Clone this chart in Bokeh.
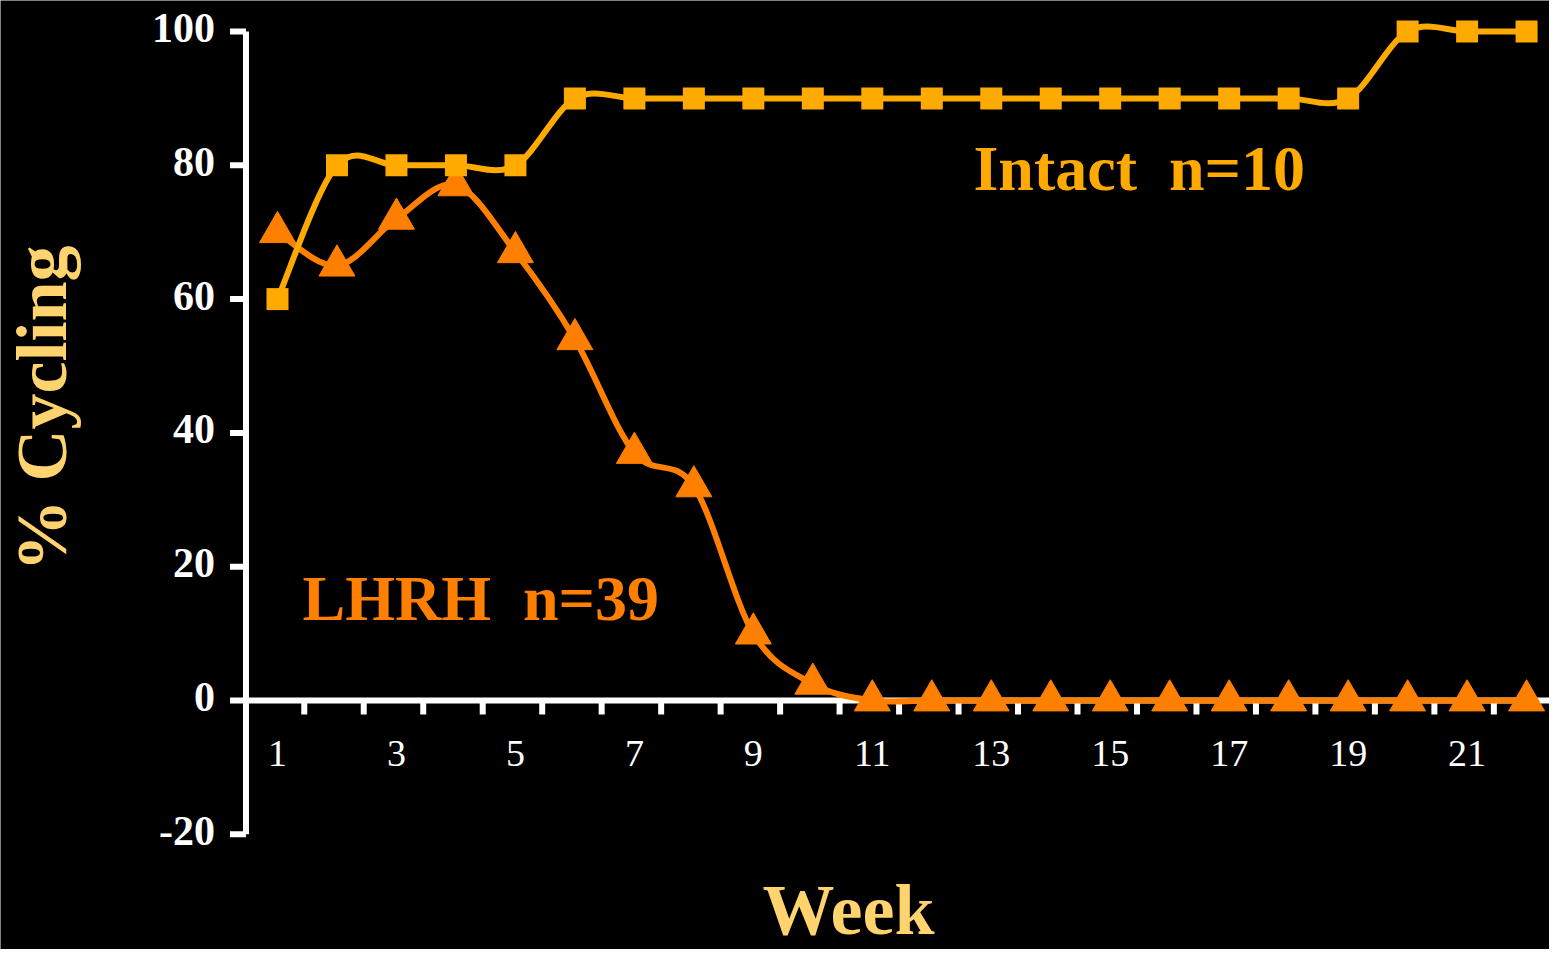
import math
from bokeh.plotting import figure
from bokeh.models import Range1d
from bokeh.core.properties import value
from bokeh.embed import file_html
from bokeh.resources import INLINE

# ---- data ----
weeks = list(range(1, 23))
intact = [60, 80, 80, 80, 80, 90, 90, 90, 90, 90, 90, 90, 90, 90, 90, 90, 90, 90, 90, 100, 100, 100]
lhrh = [70, 65, 72, 77, 67, 54, 37, 32, 10, 2.5, 0, 0, 0, 0, 0, 0, 0, 0, 0, 0, 0, 0]
x_tick_weeks = [1, 3, 5, 7, 9, 11, 13, 15, 17, 19, 21]
x_tick_labels = ["1", "3", "5", "7", "9", "11", "13", "15", "17", "19", "21"]
y_ticks = [-20, 0, 20, 40, 60, 80, 100]
y_tick_labels = ["-20", "0", "20", "40", "60", "80", "100"]

INTACT_COLOR = "#FFAA00"
LHRH_COLOR = "#FF8000"
LABEL_COLOR = "#FFD36E"
AXIS_COLOR = "white"
SERIF = value("Liberation Serif")

# scale helpers (pixel sizes -> data units)
PX_X = 59.48   # px per week
PX_Y = 6.69    # px per percent
AXIS_X = 0.47  # where the value axis crosses the category axis
Y_MIN, Y_MAX = -20, 100


def smooth_segments(xs, ys):
    """Catmull-Rom style bezier segments (like Excel's smoothed lines)."""
    n = len(xs)
    seg = dict(x0=[], y0=[], x1=[], y1=[], cx0=[], cy0=[], cx1=[], cy1=[])
    for i in range(n - 1):
        im1 = max(i - 1, 0)
        ip2 = min(i + 2, n - 1)
        seg["x0"].append(xs[i]); seg["y0"].append(ys[i])
        seg["x1"].append(xs[i + 1]); seg["y1"].append(ys[i + 1])
        seg["cx0"].append(xs[i] + (xs[i + 1] - xs[im1]) / 6.0)
        seg["cy0"].append(ys[i] + (ys[i + 1] - ys[im1]) / 6.0)
        seg["cx1"].append(xs[i + 1] - (xs[ip2] - xs[i]) / 6.0)
        seg["cy1"].append(ys[i + 1] - (ys[ip2] - ys[i]) / 6.0)
    return seg


W, H = 1549, 949
x_start = 1 - 277 / PX_X
x_end = x_start + W / PX_X
y_end = 700 / PX_Y
y_start = y_end - H / PX_Y

p = figure(width=W, height=H, output_backend="svg", toolbar_location=None,
           x_range=Range1d(x_start, x_end), y_range=Range1d(y_start, y_end),
           x_axis_location=None, y_axis_location=None,
           min_border=0, min_border_left=0, min_border_right=0,
           min_border_top=0, min_border_bottom=0)
p.background_fill_color = "black"
p.border_fill_color = "black"
p.outline_line_color = None
p.grid.visible = False

# ---- value axis (left) ----
p.segment(x0=[AXIS_X], y0=[Y_MIN], x1=[AXIS_X], y1=[Y_MAX], line_color=AXIS_COLOR, line_width=6)
p.segment(x0=[AXIS_X] * len(y_ticks), y0=y_ticks, x1=[AXIS_X - 16 / PX_X] * len(y_ticks), y1=y_ticks,
          line_color=AXIS_COLOR, line_width=6)
p.text(x=[AXIS_X - 31 / PX_X] * len(y_ticks), y=[v - 11.5 / PX_Y for v in y_ticks], text=y_tick_labels,
       y_offset=-15, text_font=SERIF, text_font_style="bold", text_font_size="42px",
       text_color=AXIS_COLOR, text_align="right", text_baseline="alphabetic")

# ---- category axis at y = 0 ----
p.segment(x0=[AXIS_X], y0=[0], x1=[x_end], y1=[0], line_color=AXIS_COLOR, line_width=6)
minor = [w + 0.45 for w in weeks]
p.segment(x0=minor, y0=[0] * len(minor), x1=minor, y1=[-14 / PX_Y] * len(minor),
          line_color=AXIS_COLOR, line_width=6)
p.text(x=x_tick_weeks, y=[-68 / PX_Y] * len(x_tick_weeks), text=x_tick_labels, y_offset=-15,
       text_font=SERIF, text_font_size="38px", text_color=AXIS_COLOR,
       text_align="center", text_baseline="alphabetic")

# ---- LHRH series ----
s = smooth_segments(weeks, lhrh)
p.bezier(x0=s["x0"], y0=s["y0"], x1=s["x1"], y1=s["y1"], cx0=s["cx0"], cy0=s["cy0"],
         cx1=s["cx1"], cy1=s["cy1"], line_color=LHRH_COLOR, line_width=6, line_cap="round")
p.scatter(weeks, lhrh, marker="triangle", size=36, fill_color=LHRH_COLOR, line_color=LHRH_COLOR, line_width=1)

# ---- Intact series ----
s = smooth_segments(weeks, intact)
p.bezier(x0=s["x0"], y0=s["y0"], x1=s["x1"], y1=s["y1"], cx0=s["cx0"], cy0=s["cy0"],
         cx1=s["cx1"], cy1=s["cy1"], line_color=INTACT_COLOR, line_width=6, line_cap="round")
p.scatter(weeks, intact, marker="square", size=22, fill_color=INTACT_COLOR, line_color=INTACT_COLOR, line_width=0)

# ---- series labels ----
p.text(x=[12.70], y=[76.2], text=["Intact\u00a0 n=10"], y_offset=-22, text_font=SERIF,
       text_font_style="bold", text_font_size="64px", text_color=INTACT_COLOR,
       text_align="left", text_baseline="alphabetic")
p.text(x=[1.42], y=[11.96], text=["LHRH\u00a0 n=39"], y_offset=-22, text_font=SERIF,
       text_font_style="bold", text_font_size="64px", text_color=LHRH_COLOR,
       text_align="left", text_baseline="alphabetic")

# ---- axis titles ----
p.text(x=[1 + (41 - 277) / PX_X], y=[(700 - 408) / PX_Y], text=["% Cycling"], angle=math.pi / 2,
       text_font=SERIF, text_font_style="bold", text_font_size="72px", text_color=LABEL_COLOR,
       text_align="center", text_baseline="alphabetic")
p.text(x=[10.60], y=[(700 - 932) / PX_Y], text=["Week"], y_offset=-23, text_font=SERIF,
       text_font_style="bold", text_font_size="72px", text_color=LABEL_COLOR,
       text_align="center", text_baseline="alphabetic")

open("out.html", "w").write(file_html(p, INLINE))
